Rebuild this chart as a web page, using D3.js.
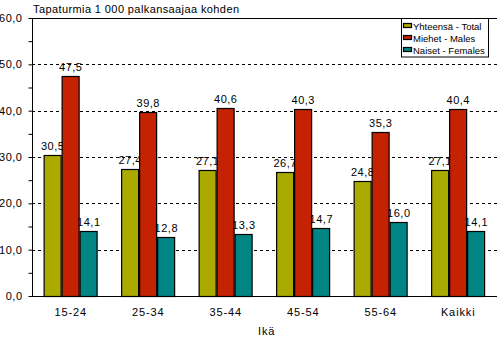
<!DOCTYPE html>
<html>
<head>
<meta charset="utf-8">
<script src="https://cdn.jsdelivr.net/npm/d3@7/dist/d3.min.js"></script>
<style>
  html, body { margin: 0; padding: 0; background: #fff; }
  svg { display: block; font-family: "Liberation Sans", Arial, sans-serif; }
  text { fill: #000; }
</style>
</head>
<body>
<svg id="chart" width="498" height="338"></svg>
<script>
// Accidents per 1 000 employees by age group
const categories = ["15-24", "25-34", "35-44", "45-54", "55-64", "Kaikki"];
const seriesNames = ["Yhteensä - Total", "Miehet - Males", "Naiset - Females"];
const total   = [30.5, 27.4, 27.1, 26.7, 24.8, 27.1];
const males   = [47.5, 39.8, 40.6, 40.3, 35.3, 40.4];
const females = [14.1, 12.8, 13.3, 14.7, 16.0, 14.1];
const seriesColors = ["#aaaa00", "#c42200", "#008484"];
const yTicks = [0, 10, 20, 30, 40, 50, 60];
const yMinorTicks = [5, 15, 25, 35, 45, 55];
const title = "Tapaturmia 1 000 palkansaajaa kohden";
const xTitle = "Ikä";

const seriesValues = [total, males, females];

const svg = d3.select("#chart");
const plotLeft = 32, plotRight = 497, plotTop = 18, plotBottom = 296;

const x = d3.scaleBand().domain(categories).range([plotLeft, plotRight])
  .paddingInner(0.30).paddingOuter(0.15);
const xs = d3.scaleBand().domain(d3.range(seriesNames.length)).range([0, x.bandwidth()]);
const y = d3.scaleLinear().domain([0, 60]).range([plotBottom, plotTop]);

const fmt = v => d3.format(".1f")(v).replace(".", ",");

// dashed gridlines
svg.append("g").selectAll("line")
  .data(yTicks.filter(t => t > 0 && t < 60))
  .join("line")
  .attr("x1", plotLeft).attr("x2", plotRight)
  .attr("y1", d => Math.round(y(d)) + 0.5).attr("y2", d => Math.round(y(d)) + 0.5)
  .attr("stroke", "#000").attr("stroke-width", 1)
  .attr("stroke-dasharray", "3,3");

// top border line
svg.append("line")
  .attr("x1", plotLeft).attr("x2", plotRight)
  .attr("y1", Math.round(y(60)) + 0.5).attr("y2", Math.round(y(60)) + 0.5)
  .attr("stroke", "#000");

// bars
const groups = svg.append("g").selectAll("g")
  .data(categories)
  .join("g")
  .attr("transform", d => `translate(${x(d)},0)`);

groups.each(function(cat, ci) {
  const g = d3.select(this);
  seriesValues.forEach((vals, si) => {
    const v = vals[ci];
    const bx = Math.round(xs(si)) + 0.5;
    const bw = Math.round(xs.bandwidth()) - 1;
    g.append("rect")
      .attr("x", bx)
      .attr("y", Math.round(y(v)) + 0.5)
      .attr("width", bw)
      .attr("height", Math.round(y(0)) - Math.round(y(v)))
      .attr("fill", seriesColors[si])
      .attr("stroke", "#000").attr("stroke-width", 1.2);
    g.append("text")
      .attr("x", xs(si) + xs.bandwidth() / 2)
      .attr("y", y(v) - 5)
      .attr("text-anchor", "middle")
      .attr("font-size", 11)
      .attr("letter-spacing", 0.5)
      .text(fmt(v));
  });
});

// y axis
const yAxis = d3.axisLeft(y)
  .tickValues(yTicks.concat(yMinorTicks))
  .tickSize(4)
  .tickFormat(d => yTicks.includes(d) ? fmt(d) : "");
const ga = svg.append("g").attr("transform", `translate(${plotLeft + 0.5},0)`).call(yAxis);
ga.select(".domain").attr("d", `M0,${plotTop}V${plotBottom}`).attr("stroke", "#000");
ga.selectAll(".tick line").attr("stroke", "#000");
ga.selectAll(".tick text")
  .attr("x", -10)
  .attr("font-size", 11)
  .attr("letter-spacing", 0.5)
  .attr("font-family", "Liberation Sans, Arial, sans-serif")
  .attr("fill", "#000");

// x axis
const xAxis = d3.axisBottom(x).tickSize(0).tickPadding(12);
const gx = svg.append("g").attr("transform", `translate(0,${Math.round(plotBottom) + 0.5})`).call(xAxis);
gx.select(".domain").attr("d", `M${plotLeft},0H${plotRight}`).attr("stroke", "#000");
gx.selectAll(".tick text")
  .attr("font-size", 11)
  .attr("letter-spacing", 0.9)
  .attr("font-family", "Liberation Sans, Arial, sans-serif")
  .attr("fill", "#000");

// titles
svg.append("text")
  .attr("x", 33).attr("y", 13)
  .attr("font-size", 11).attr("letter-spacing", 0.4)
  .text(title);
svg.append("text")
  .attr("x", 258).attr("y", 335)
  .attr("font-size", 11).attr("letter-spacing", 0.9)
  .text(xTitle);

// legend
const lg = svg.append("g");
lg.append("rect")
  .attr("x", 401.5).attr("y", 18.5)
  .attr("width", 87).attr("height", 38.5)
  .attr("fill", "#fff").attr("stroke", "#000");
seriesNames.forEach((name, i) => {
  const ry = 22.5 + i * 12.4;
  lg.append("rect")
    .attr("x", 403.5).attr("y", Math.round(ry) + 0.5)
    .attr("width", 8).attr("height", 4)
    .attr("fill", seriesColors[i]).attr("stroke", "#000").attr("stroke-width", 1.2);
  lg.append("text")
    .attr("x", 413).attr("y", ry + 7)
    .attr("font-size", 9.5)
    .text(name);
});
</script>
</body>
</html>
